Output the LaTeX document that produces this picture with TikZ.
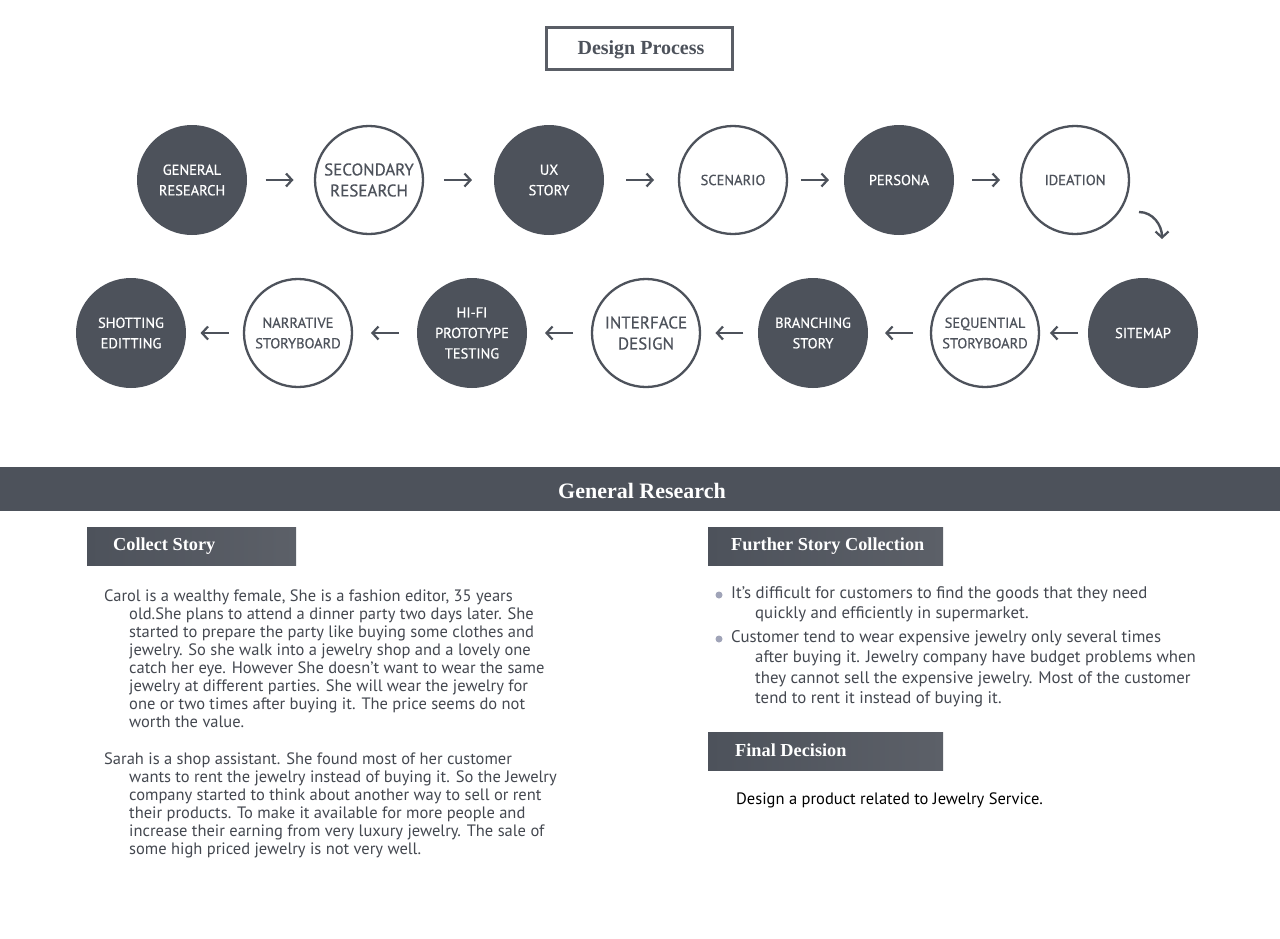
\documentclass[tikz,border=0pt]{standalone}
\usepackage{fontspec}
\setmainfont{Liberation Serif}
\newfontfamily\uifont{PT Sans}
\newfontfamily\cfont[FakeBold=0.5]{PT Sans}
\usetikzlibrary{arrows.meta,calc}
\definecolor{dk}{RGB}{77,82,91}
\definecolor{dk2}{RGB}{92,96,104}
\definecolor{bodyc}{RGB}{68,72,80}
\definecolor{bul}{RGB}{160,164,184}
\begin{document}
\begin{tikzpicture}[x=1pt,y=-1pt,
  filledc/.style={circle,fill=dk,minimum size=110pt,inner sep=0pt,text=white,align=center,font=\cfont\fontsize{14.5}{20.5}\selectfont},
  openc/.style={circle,draw=dk,line width=2.3pt,fill=white,minimum size=108pt,inner sep=0pt,text=dk,align=center,font=\cfont\fontsize{14.5}{20.5}\selectfont},
  bigt/.style={font=\cfont\fontsize{17}{21}\selectfont},
  flow/.style={draw=dk,line width=2.4pt,-{Straight Barb[length=6pt,width=13pt,line width=2.2pt]}},
  hdr/.style={left color=dk,right color=dk2,draw=none,anchor=north west,inner sep=0pt},
  hdrt/.style={text=white,font=\bfseries\fontsize{18.3}{20}\selectfont,anchor=west,inner sep=0pt},
  body/.style={text=bodyc,anchor=north west,inner sep=0pt,align=left,font=\uifont\fontsize{16.5}{18}\selectfont},
  bodyr/.style={text=bodyc,anchor=north west,inner sep=0pt,align=left,font=\uifont\fontsize{16.8}{20.5}\selectfont}
]
\useasboundingbox (0,0) rectangle (1280,938);
\fill[white] (0,0) rectangle (1280,938);

% title
\node[draw={rgb,255:red,90;green,94;blue,102},line width=2.5pt,minimum width=186pt,minimum height=42pt,inner sep=0pt] (titlebox) at (639.5,48.5) {};
\node[text=dk,inner sep=0pt,font=\bfseries\fontsize{20}{22}\selectfont] (title) at (641,50) {Design Process};

% row 1
\node[filledc] (c1) at (192,180) {GENERAL\\RESEARCH};
\node[openc,bigt] (c2) at (369,180) {SECONDARY\\RESEARCH};
\node[filledc] (c3) at (549,180) {UX\\STORY};
\node[openc] (c4) at (733,180) {SCENARIO};
\node[filledc] (c5) at (899,180) {PERSONA};
\node[openc] (c6) at (1075,180) {IDEATION};

% row 2
\node[filledc] (c7) at (1143,333) {SITEMAP};
\node[openc] (c8) at (985,333) {SEQUENTIAL\\STORYBOARD};
\node[filledc] (c9) at (813,333) {BRANCHING\\STORY};
\node[openc,bigt] (c10) at (646,333) {INTERFACE\\DESIGN};
\node[filledc] (c11) at (472,333) {HI-FI\\PROTOTYPE\\TESTING};
\node[openc] (c12) at (298,333) {NARRATIVE\\STORYBOARD};
\node[filledc] (c13) at (131,333) {SHOTTING\\EDITTING};

% arrows row 1
\foreach \a/\b in {c1/c2,c2/c3,c3/c4,c4/c5,c5/c6}{
  \draw[flow] ($(\a.east)!0.5!(\b.west)+(-15,0)$) -- ($(\a.east)!0.5!(\b.west)+(13,0)$);
}
% arrows row 2
\foreach \a/\b in {c7/c8,c8/c9,c9/c10,c10/c11,c11/c12,c12/c13}{
  \draw[flow] ($(\a.west)!0.5!(\b.east)+(14,0)$) -- ($(\a.west)!0.5!(\b.east)+(-14,0)$);
}
% curved arrow
\coordinate (ca) at (1139,212);
\coordinate (cb) at (1162,239);
\draw[flow] (ca) to[out=0,in=90] (cb);

% banner
\fill[dk] (0,467) rectangle (1280,511);
\node[text=white,font=\bfseries\fontsize{22}{24}\selectfont,inner sep=0pt] (banner) at (642,491) {General Research};

% headers
\node[hdr,minimum width=209pt,minimum height=38pt] (h1) at (87,527) {};
\node[hdrt] (h1t) at (113,546) {Collect Story};
\node[hdr,minimum width=235pt,minimum height=38pt] (h2) at (708,527) {};
\node[hdrt] (h2t) at (731,546) {Further Story Collection};
\node[hdr,minimum width=235pt,minimum height=38pt] (h3) at (708,732) {};
\node[hdrt] (h3t) at (735,750) {Final Decision};

% left body
\node[body] (p1) at (104,590) {Carol is a wealthy female, She is a fashion editor, 35 years\\
\hspace*{25pt}old.She plans to attend a dinner party two days later. She\\
\hspace*{25pt}started to prepare the party like buying some clothes and\\
\hspace*{25pt}jewelry. So she walk into a jewelry shop and a lovely one\\
\hspace*{25pt}catch her eye. However She doesn’t want to wear the same\\
\hspace*{25pt}jewelry at different parties. She will wear the jewelry for\\
\hspace*{25pt}one or two times after buying it. The price seems do not\\
\hspace*{25pt}worth the value.};
\node[body] (p2) at (104,753) {Sarah is a shop assistant. She found most of her customer\\
\hspace*{25pt}wants to rent the jewelry instead of buying it. So the Jewelry\\
\hspace*{25pt}company started to think about another way to sell or rent\\
\hspace*{25pt}their products. To make it available for more people and\\
\hspace*{25pt}increase their earning from very luxury jewelry. The sale of\\
\hspace*{25pt}some high priced jewelry is not very well.};

% right body
\fill[bul] (719,595) circle (3.5pt);
\fill[bul] (719,639) circle (3.5pt);
\node[bodyr] (r1) at (731,586) {It’s difficult for customers to find the goods that they need\\
\hspace*{24pt}quickly and efficiently in supermarket.};
\node[bodyr] (r2) at (731,630) {Customer tend to wear expensive jewelry only several times\\
\hspace*{24pt}after buying it. Jewelry company have budget problems when\\
\hspace*{24pt}they cannot sell the expensive jewelry. Most of the customer\\
\hspace*{24pt}tend to rent it instead of buying it.};
\node[body,text=black] (fd) at (736,793) {Design a product related to Jewelry Service.};
\end{tikzpicture}
\end{document}
